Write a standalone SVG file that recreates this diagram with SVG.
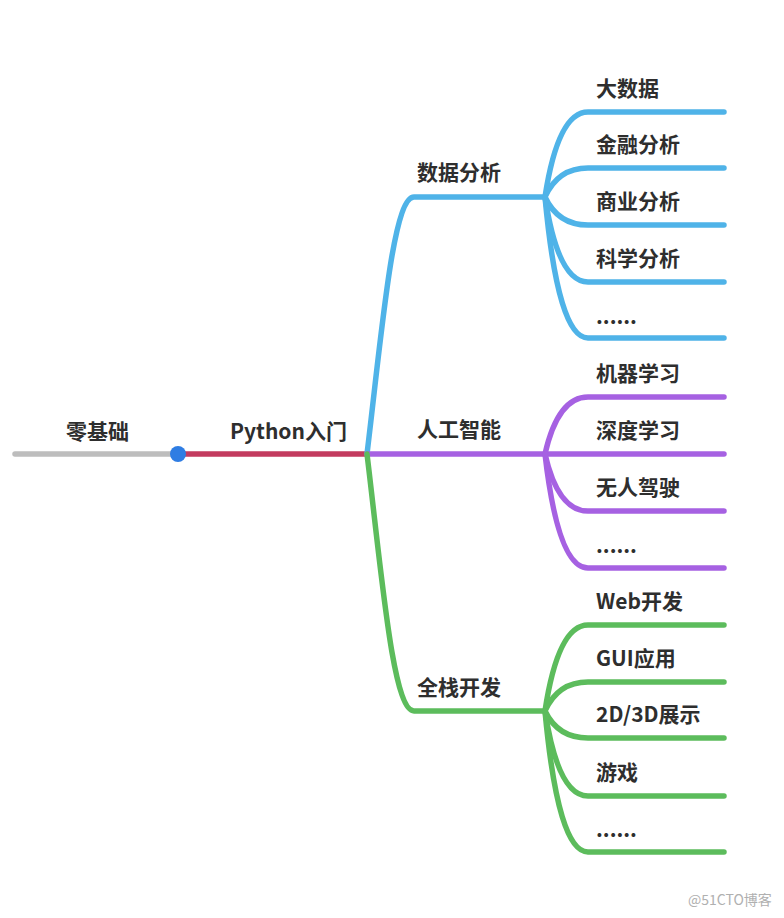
<svg xmlns="http://www.w3.org/2000/svg" width="784" height="918" viewBox="0 0 784 918">
<style>
text{font-family:"Noto Sans CJK SC","Liberation Sans",sans-serif;font-size:21px;font-weight:bold;fill:#2e2e2e}
.c{fill:none;stroke-width:5.5;stroke-linecap:round;stroke-linejoin:round}
.b{stroke:#4fb3e8}.p{stroke:#a661e2}.g{stroke:#5cbc5c}
.wm{font-size:14px;font-weight:normal;fill:#b0b0b0}
</style>
<rect width="784" height="918" fill="#fff"/>
<g id="connectors">
<path class="c" stroke="#bdbdbd" d="M15,454 L178,454"/>
<path class="c" stroke="#c33b5f" d="M178,454 L367,454"/>
<path class="c b" d="M367,454 C382,330 393,197 414,197 L545,197"/>
<path class="c p" d="M367,454 L545,454"/>
<path class="c g" d="M367,454 C382,578 393,711 414,711 L545,711"/>
<g class="b">
<path class="c" d="M545,197 Q558,112 588,112 L724,112"/>
<path class="c" d="M545,197 Q558,168 588,168 L724,168"/>
<path class="c" d="M545,197 Q558,225 588,225 L724,225"/>
<path class="c" d="M545,197 Q558,282 588,282 L724,282"/>
<path class="c" d="M545,197 Q558,338 588,338 L724,338"/>
</g>
<g class="p">
<path class="c" d="M545,454 Q558,397 588,397 L724,397"/>
<path class="c" d="M545,454 L724,454"/>
<path class="c" d="M545,454 Q558,511 588,511 L724,511"/>
<path class="c" d="M545,454 Q558,568 588,568 L724,568"/>
</g>
<g class="g">
<path class="c" d="M545,711 Q558,625 588,625 L724,625"/>
<path class="c" d="M545,711 Q558,682 588,682 L724,682"/>
<path class="c" d="M545,711 Q558,738 588,738 L724,738"/>
<path class="c" d="M545,711 Q558,796 588,796 L724,796"/>
<path class="c" d="M545,711 Q558,852 588,852 L724,852"/>
</g>
</g>
<g id="root"><text x="66" y="439">零基础</text></g>
<g id="dot"><circle cx="178" cy="454" r="8" fill="#2f7de3"/></g>
<g id="python"><text x="230" y="439">Python入门</text></g>
<g id="n-data"><text x="417" y="180">数据分析</text></g>
<g id="n-ai"><text x="417" y="437">人工智能</text></g>
<g id="n-web"><text x="417" y="695">全栈开发</text></g>
<g id="l-bigdata"><text x="596" y="96">大数据</text></g>
<g id="l-fin"><text x="596" y="152">金融分析</text></g>
<g id="l-biz"><text x="596" y="209">商业分析</text></g>
<g id="l-sci"><text x="596" y="266">科学分析</text></g>
<g id="l-more1"><text x="596" y="324">......</text></g>
<g id="l-ml"><text x="596" y="381">机器学习</text></g>
<g id="l-dl"><text x="596" y="438">深度学习</text></g>
<g id="l-auto"><text x="596" y="495">无人驾驶</text></g>
<g id="l-more2"><text x="596" y="553">......</text></g>
<g id="l-web"><text x="596" y="609">Web开发</text></g>
<g id="l-gui"><text x="596" y="666">GUI应用</text></g>
<g id="l-3d"><text x="596" y="722">2D/3D展示</text></g>
<g id="l-game"><text x="596" y="780">游戏</text></g>
<g id="l-more3"><text x="596" y="837">......</text></g>
<text class="wm" x="688" y="905">@51CTO博客</text>
</svg>
